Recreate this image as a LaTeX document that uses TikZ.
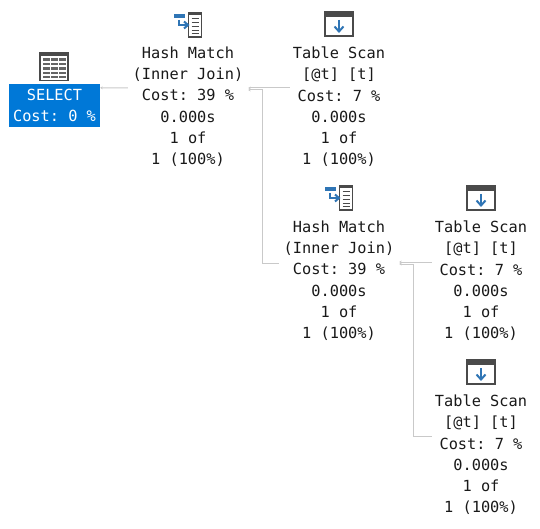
\documentclass[tikz,border=0pt]{standalone}
\usepackage{fontspec}
\setmonofont{DejaVu Sans Mono}
\usetikzlibrary{arrows.meta}
\definecolor{icondark}{HTML}{4A4A4A}
\definecolor{iconblue}{HTML}{2F75B5}
\definecolor{linkgrey}{HTML}{C9C9C9}
\definecolor{selblue}{HTML}{0078D7}
\tikzset{
  x=1pt,y=-1pt,
  optext/.style={font=\ttfamily\fontsize{15.3}{21.3}\selectfont,align=center,inner sep=0pt,anchor=north,text=black!90},
  hashop/.style={optext,minimum width=120pt},
  scanop/.style={optext,minimum width=98pt},
  selectop/.style={font=\ttfamily\fontsize{15.3}{21.3}\selectfont,align=center,inner sep=0pt,fill=selblue,text=white,minimum width=91pt,minimum height=43pt},
  link/.style={draw=linkgrey,line width=1pt},
  arrowlink/.style={link,-{Stealth[length=2.5pt,width=3pt]}},
  scanicon/.pic={
    \draw[icondark,line width=1.3pt,fill=white] (-14,-12) rectangle (14,12);
    \fill[icondark] (-14.6,-12.6) rectangle (14.6,-7);
    \draw[iconblue,line width=2pt] (0,-4) -- (0,7);
    \draw[iconblue,line width=2pt] (-4.5,2.5) -- (0,7.5) -- (4.5,2.5);
  },
  hashicon/.pic={
    \draw[icondark,line width=1.5pt,fill=white] (0.5,-12) rectangle (13.5,12);
    \fill[icondark] (0,-12.5) rectangle (14,-9.5);
    \foreach \r in {-6.5,-2.5,1.5,5.5,8.5}{\draw[icondark,line width=1.5pt] (3.5,\r) -- (10.5,\r);}
    \fill[iconblue] (-14,-11) rectangle (-3,-7);
    \draw[iconblue,line width=2pt] (-9,-5) -- (-9,0) -- (-1,0);
    \draw[iconblue,line width=2pt] (-4,-3.5) -- (0,0) -- (-4,3.5);
  },
  tableicon/.pic={
    \draw[icondark,line width=1.5pt,fill=white] (-14,-14) rectangle (14,14);
    \fill[icondark] (-14.8,-14.8) rectangle (14.8,-10);
    \foreach \r in {-7,-2.5,2,6.5,10.5}{\foreach \c in {-11,-3,5}{\fill[icondark!85] (\c,\r-1.1) rectangle (\c+6.5,\r+1.1);}}
  }
}
\begin{document}
\begin{tikzpicture}
\useasboundingbox (0,0) rectangle (540,529);
\pic at (54,66.5) {tableicon};
\pic at (188,25) {hashicon};
\pic at (339,24) {scanicon};
\pic at (339,198) {hashicon};
\pic at (481,198) {scanicon};
\pic at (481,372) {scanicon};
\node[selectop] (select) at (54.5,105.5) {SELECT\\Cost: 0 \%};
\node[hashop] (hashA) at (188,46.5) {Hash Match\\(Inner Join)\\Cost: 39 \%\\0.000s\\1 of\\1 (100\%)};
\node[scanop] (scanA) at (339,46.5) {Table Scan\\{}[@t] [t]\\Cost: 7 \%\\0.000s\\1 of\\1 (100\%)};
\node[hashop] (hashB) at (339,220.5) {Hash Match\\(Inner Join)\\Cost: 39 \%\\0.000s\\1 of\\1 (100\%)};
\node[scanop] (scanB) at (481,220.5) {Table Scan\\{}[@t] [t]\\Cost: 7 \%\\0.000s\\1 of\\1 (100\%)};
\node[scanop] (scanC) at (481,394.5) {Table Scan\\{}[@t] [t]\\Cost: 7 \%\\0.000s\\1 of\\1 (100\%)};
\draw[arrowlink] ([yshift=-41.5pt]hashA.north west) -- ([yshift=-4pt]select.north east);
\draw[arrowlink] ([yshift=-41.5pt]scanA.north west) -- ([yshift=-41.5pt]hashA.north east);
\draw[arrowlink] ([yshift=-42.5pt]hashB.north west) -| ([xshift=14pt,yshift=-43.5pt]hashA.north east) -- ([yshift=-43.5pt]hashA.north east);
\draw[arrowlink] ([yshift=-41.5pt]scanB.north west) -- ([yshift=-41.5pt]hashB.north east);
\draw[arrowlink] ([yshift=-41.5pt]scanC.north west) -| ([xshift=14pt,yshift=-43.5pt]hashB.north east) -- ([yshift=-43.5pt]hashB.north east);
\end{tikzpicture}
\end{document}
